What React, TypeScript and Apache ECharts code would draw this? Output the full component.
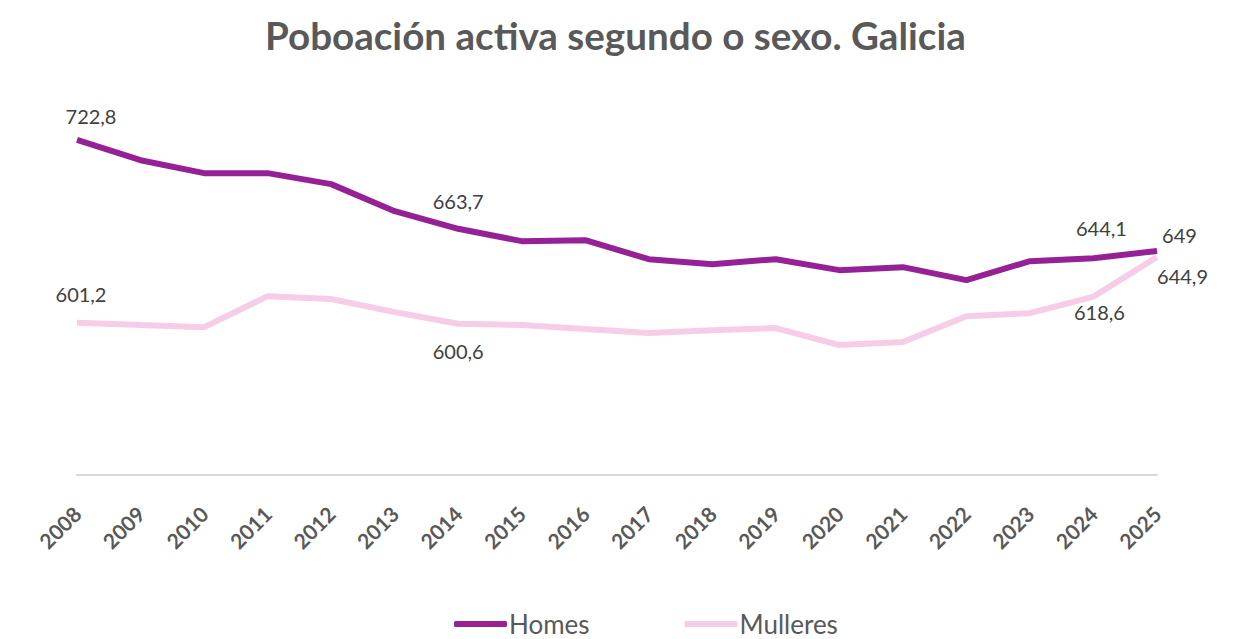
import React, { useEffect, useRef } from "react";
import * as echarts from "echarts";

const years = ["2008","2009","2010","2011","2012","2013","2014","2015","2016","2017","2018","2019","2020","2021","2022","2023","2024","2025"];
const homes = [722.8, 709.3, 700.7, 700.7, 693.4, 675.4, 663.7, 655.5, 656.1, 643.5, 640.2, 643.5, 636.2, 638.2, 629.6, 642.2, 644.1, 649];
const mulleres = [601.2, 599.7, 598.3, 618.9, 617.0, 608.3, 600.6, 599.7, 597.0, 594.4, 596.3, 597.7, 586.4, 588.4, 605.6, 607.6, 618.6, 644.9];

const title = "Poboación activa segundo o sexo. Galicia";
const seriesNames = ["Homes", "Mulleres"];

const FONT = "Lato, 'Open Sans', sans-serif";

type LabelCfg = { position: string; offset: number[] };
const homesLabels: Record<number, LabelCfg> = {
  0: { position: "top", offset: [14, -9] },
  6: { position: "top", offset: [0, -13] },
  16: { position: "top", offset: [8, -15] },
  17: { position: "right", offset: [0, -16] },
};
const mulleresLabels: Record<number, LabelCfg> = {
  0: { position: "top", offset: [4, -14] },
  6: { position: "bottom", offset: [0, 12] },
  16: { position: "bottom", offset: [6, 0] },
  17: { position: "right", offset: [-5, 19] },
};

const fmt = (v: number) => String(v).replace(".", ",");

function buildData(values: number[], labels: Record<number, LabelCfg>) {
  return values.map((v, i) => {
    const l = labels[i];
    if (!l) return { value: v };
    return {
      value: v,
      label: {
        show: true,
        position: l.position,
        offset: l.offset,
        formatter: () => fmt(v),
        color: "#404040",
        fontSize: 20,
        fontFamily: FONT,
      },
    };
  });
}

export default function App() {
  const ref = useRef<HTMLDivElement>(null);
  useEffect(() => {
    if (!ref.current) return;
    const chart = echarts.init(ref.current, null, { renderer: "svg" });
    chart.setOption({
      animation: false,
      backgroundColor: "#ffffff",
      title: {
        text: title,
        left: 260,
        top: 10,
        textStyle: { fontFamily: FONT, fontSize: 38.6, fontWeight: "bold", color: "#595959" },
      },
      legend: {
        bottom: -3,
        left: 449,
        itemWidth: 53,
        itemHeight: 6,
        itemGap: 95,
        icon: "roundRect",
        data: seriesNames,
        textStyle: { fontFamily: FONT, fontSize: 26, color: "#595959", padding: [0, 0, 0, -3] },
      },
      grid: { left: 77, right: 92, top: 99, bottom: 164, containLabel: false },
      xAxis: {
        type: "category",
        data: years,
        boundaryGap: false,
        axisLine: { show: true, lineStyle: { color: "#d9d9d9", width: 2 } },
        axisTick: { show: false },
        axisLabel: {
          rotate: 45,
          margin: 35,
          fontFamily: FONT,
          fontSize: 21,
          fontWeight: "bold",
          color: "#595959",
        },
      },
      yAxis: {
        type: "value",
        min: 500,
        max: 750,
        show: false,
        splitLine: { show: false },
      },
      series: [
        {
          name: seriesNames[0],
          type: "line",
          data: buildData(homes, homesLabels),
          symbol: "circle",
          symbolSize: 0.1,
          showSymbol: true,
          lineStyle: { color: "#962196", width: 6 },
          itemStyle: { color: "#962196" },
        },
        {
          name: seriesNames[1],
          type: "line",
          data: buildData(mulleres, mulleresLabels),
          symbol: "circle",
          symbolSize: 0.1,
          showSymbol: true,
          lineStyle: { color: "#f6cde6", width: 6 },
          itemStyle: { color: "#f6cde6" },
        },
      ],
    });
    return () => chart.dispose();
  }, []);
  return (
    <div
      ref={ref}
      style={{ position: "fixed", left: 0, top: 0, width: 1249, height: 639 }}
    />
  );
}
